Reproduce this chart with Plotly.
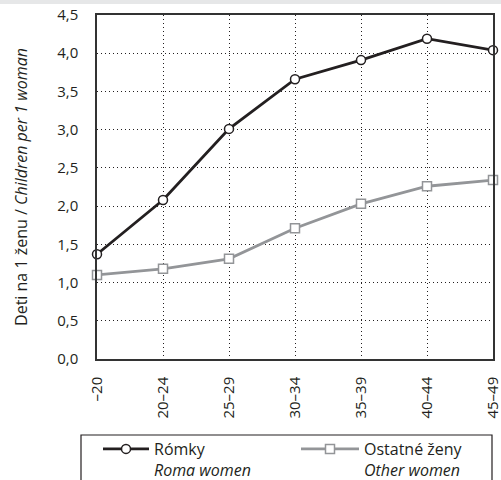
import plotly.graph_objects as go

categories = ["–20", "20–24", "25–29", "30–34", "35–39", "40–44", "45–49"]
roma = [1.37, 2.08, 3.01, 3.66, 3.91, 4.19, 4.04]
other = [1.10, 1.18, 1.31, 1.71, 2.03, 2.26, 2.34]
y_ticks = [0, 0.5, 1, 1.5, 2, 2.5, 3, 3.5, 4, 4.5]
y_labels = ["0,0", "0,5", "1,0", "1,5", "2,0", "2,5", "3,0", "3,5", "4,0", "4,5"]

FONT = "Open Sans"
TXT = "#231f20"

fig = go.Figure()
fig.add_trace(go.Scatter(
    x=categories, y=roma, mode="lines+markers",
    name="Rómky<br><i>Roma women</i>", legend="legend",
    line=dict(color="#231f20", width=2.8),
    marker=dict(symbol="circle", size=9, color="white", line=dict(color="#231f20", width=1.5)),
    cliponaxis=False,
))
fig.add_trace(go.Scatter(
    x=categories, y=other, mode="lines+markers",
    name="Ostatné ženy<br><i>Other women</i>", legend="legend2",
    line=dict(color="#939598", width=2.8),
    marker=dict(symbol="square", size=9, color="white", line=dict(color="#939598", width=1.5)),
    cliponaxis=False,
))

L, R, T, B = 97, 8, 15, 121
W, H = 501, 480
pw, ph = W - L - R, H - T - B

legend_common = dict(
    orientation="v", xanchor="left", yanchor="top",
    bgcolor="rgba(0,0,0,0)", borderwidth=0,
    font=dict(size=16, color=TXT), valign="top",
)

fig.update_layout(
    width=W, height=H,
    margin=dict(l=L, r=R, t=T, b=B, autoexpand=False),
    paper_bgcolor="white", plot_bgcolor="white",
    font=dict(family=FONT, size=15, color=TXT),
    xaxis=dict(
        type="category", range=[0, 6], tickangle=-90, automargin=False,
        showgrid=True, gridcolor="#231f20", griddash="1px,3px", gridwidth=1,
        showline=True, linecolor="#333333", linewidth=1.5, mirror=True,
        ticks="outside", ticklen=10, tickcolor="rgba(0,0,0,0)",
        tickfont=dict(size=15, color=TXT), ticklabeloverflow="allow",
    ),
    yaxis=dict(
        range=[0, 4.5], tickvals=y_ticks, ticktext=y_labels, automargin=False,
        showgrid=True, gridcolor="#231f20", griddash="1px,3px", gridwidth=1,
        showline=True, linecolor="#333333", linewidth=1.5, mirror=True,
        ticks="outside", ticklen=14, tickcolor="rgba(0,0,0,0)",
        zeroline=False, tickfont=dict(size=15, color=TXT),
        title=dict(text="Deti na 1 ženu / <i>Children per 1 woman</i>", font=dict(size=16, color=TXT), standoff=26),
    ),
    showlegend=True,
    legend=dict(legend_common, itemwidth=46, x=(98 - L) / pw, y=(ph - (432 - T)) / ph),
    legend2=dict(legend_common, itemwidth=58, x=(296 - L) / pw, y=(ph - (432 - T)) / ph),
    shapes=[
        dict(type="rect", xref="paper", yref="paper",
             x0=-L / pw, x1=1 + R / pw, y0=1 + (T - 4) / ph, y1=1 + T / ph + 0.01,
             fillcolor="#e6e7e8", line=dict(width=0), layer="below"),
        dict(type="rect", xref="paper", yref="paper",
             x0=(81 - L) / pw, x1=(492 - L) / pw,
             y0=(ph - (485 - T)) / ph, y1=(ph - (435 - T)) / ph,
             fillcolor="rgba(0,0,0,0)", line=dict(color="#231f20", width=1.2)),
    ],
)

fig.write_html("out.html", config={"displayModeBar": False},
               post_script="document.body.style.margin='0';document.body.style.overflow='hidden';")
